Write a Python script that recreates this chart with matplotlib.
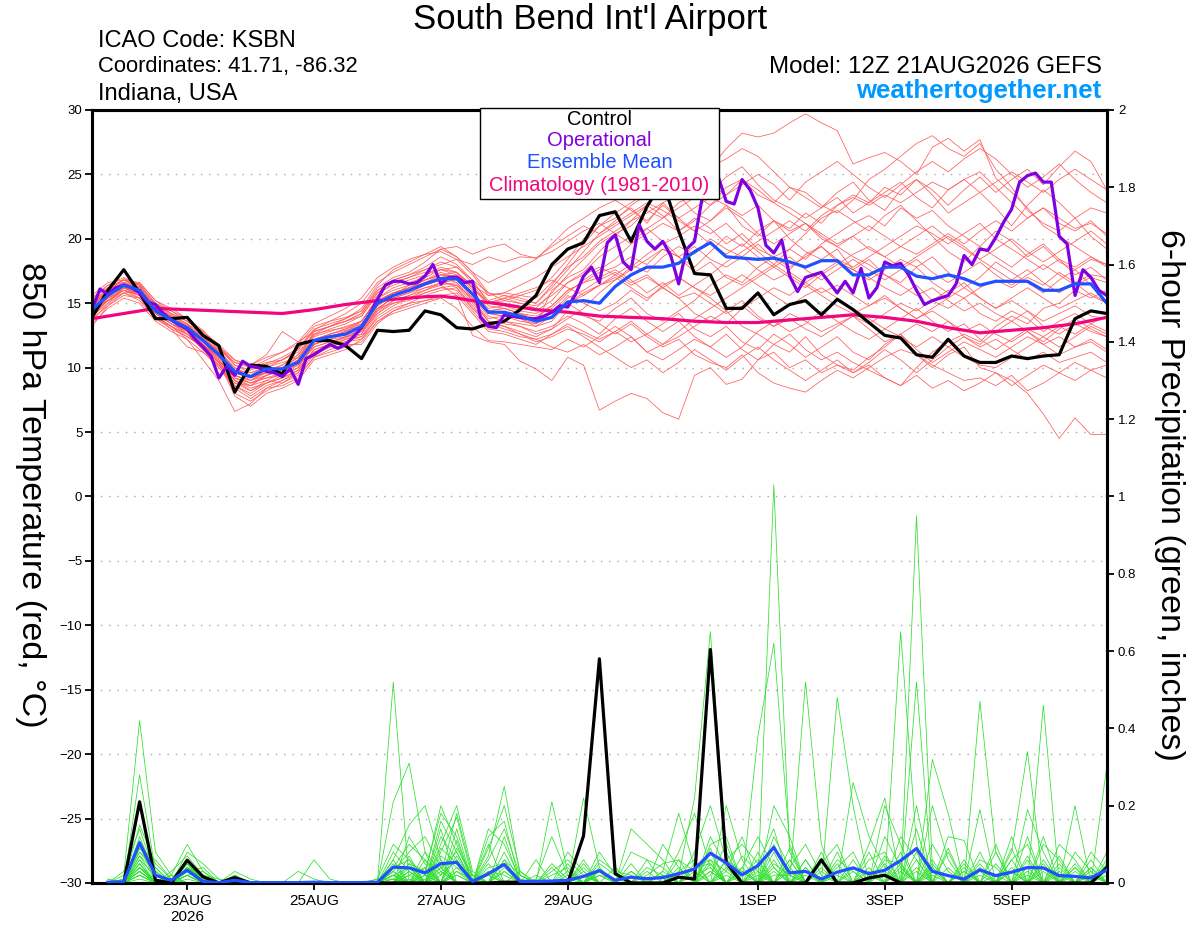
import matplotlib
matplotlib.use("Agg")
import matplotlib.pyplot as plt
import matplotlib.dates as mdates
from matplotlib.patches import Rectangle
from datetime import datetime, timedelta

plt.rcParams['font.family'] = ['Liberation Sans', 'DejaVu Sans']

# -----------------------------------------------------------------------------
# Donnees (pas de 6 h a partir de 12Z 21AUG2026)
# -----------------------------------------------------------------------------
run_start = datetime(2026, 8, 21, 12)
n_steps = 65

tick_dates = [datetime(2026, 8, 23), datetime(2026, 8, 25), datetime(2026, 8, 27),
              datetime(2026, 8, 29), datetime(2026, 9, 1), datetime(2026, 9, 3),
              datetime(2026, 9, 5)]
tick_labels = ["23AUG\n2026", "25AUG", "27AUG", "29AUG", "1SEP", "3SEP", "5SEP"]

# Temperature 850 hPa, membres de l'ensemble (rouge)
t01 = [15.0, 16.2, 16.8, 16.2, 14.8, 13.9, 13.2, 12.4, 11.2, 10.0, 9.2, 9.6, 10.2, 11.0, 12.5, 13.0, 13.4,
       14.0, 15.6, 16.6, 17.0, 17.6, 18.2, 17.8, 16.8, 15.8, 15.2, 15.6, 16.0, 17.0, 18.4, 20.0, 21.0,
       22.0, 22.8, 23.6, 24.2, 25.0, 25.6, 25.5, 27.0, 28.2, 27.9, 28.2, 29.0, 29.7, 29.0, 28.4, 25.8,
       26.3, 26.7, 26.0, 25.0, 27.1, 27.8, 26.8, 27.7, 24.7, 23.6, 22.4, 21.0, 20.2, 19.4, 18.6, 17.8]
t02 = [14.0, 15.2, 16.0, 15.4, 14.0, 13.2, 12.6, 11.4, 10.0, 8.6, 8.0, 8.8, 9.2, 9.8, 11.2, 11.6, 12.2,
       12.8, 14.2, 15.2, 15.6, 16.2, 16.4, 16.6, 15.2, 13.8, 14.0, 13.6, 13.4, 16.0, 17.0, 17.6, 19.0,
       20.2, 21.4, 22.6, 23.8, 24.6, 26.4, 25.6, 26.2, 27.0, 26.4, 25.2, 24.0, 23.6, 22.6, 22.0, 23.0,
       24.6, 25.4, 26.4, 27.4, 28.0, 27.0, 26.4, 27.4, 25.4, 24.0, 22.2, 21.2, 20.6, 21.6, 20.2, 19.2]
t03 = [14.8, 15.8, 16.5, 16.3, 14.6, 14.0, 13.4, 12.0, 10.6, 9.0, 8.6, 9.4, 9.8, 10.2, 11.6, 12.0, 12.3,
       13.0, 14.6, 15.0, 15.4, 16.0, 16.4, 15.6, 12.5, 12.0, 11.8, 10.5, 9.9, 9.0, 10.8, 10.2, 6.7,
       7.4, 8.0, 7.6, 6.5, 6.0, 9.4, 10.0, 8.7, 9.1, 10.6, 11.8, 11.2, 12.4, 11.0, 10.2, 9.6,
       10.2, 9.2, 8.6, 10.0, 11.2, 12.0, 12.6, 12.0, 13.2, 14.0, 13.4, 14.6, 15.0, 16.0, 15.4, 16.0]
t04 = [13.2, 14.8, 15.8, 15.9, 14.9, 14.2, 13.6, 12.8, 11.8, 10.6, 10.0, 10.4, 10.6, 11.2, 12.6, 12.9, 13.1,
       13.6, 15.2, 15.8, 16.2, 16.6, 17.2, 17.4, 16.2, 14.8, 14.6, 14.2, 13.8, 14.2, 15.6, 15.0, 14.4,
       15.0, 16.0, 15.2, 16.4, 17.0, 16.2, 15.4, 14.4, 15.2, 14.0, 13.2, 14.2, 13.6, 12.8, 13.4, 14.0,
       13.0, 12.0, 12.6, 11.0, 10.0, 11.0, 11.6, 10.0, 9.6, 9.0, 8.0, 6.4, 4.5, 6.1, 4.8, 4.8]
t05 = [14.2, 15.4, 16.6, 16.4, 15.0, 14.4, 13.8, 12.9, 11.5, 10.2, 9.8, 10.3, 10.8, 11.5, 13.0, 13.4, 13.8,
       14.4, 16.0, 16.8, 17.2, 17.8, 18.6, 18.0, 16.8, 15.0, 15.4, 15.0, 14.6, 15.8, 17.2, 18.4, 19.6,
       20.4, 21.0, 22.2, 21.6, 22.8, 23.4, 22.6, 24.0, 24.6, 23.4, 22.8, 24.0, 23.2, 22.4, 23.6, 24.4,
       23.0, 22.2, 23.8, 24.6, 23.4, 22.0, 22.8, 23.6, 22.4, 21.0, 22.6, 23.8, 22.8, 21.6, 22.4, 22.0]
t06 = [15.2, 16.0, 16.2, 15.6, 14.2, 13.4, 12.8, 11.8, 10.8, 9.4, 9.0, 9.6, 9.4, 10.0, 11.8, 12.2, 12.4,
       12.8, 14.6, 15.4, 15.8, 16.4, 16.8, 17.0, 15.8, 14.2, 14.0, 13.8, 13.2, 13.6, 15.0, 15.8, 16.4,
       17.2, 18.0, 17.4, 18.6, 19.4, 18.8, 20.0, 19.2, 18.6, 19.6, 18.4, 17.6, 18.8, 19.4, 18.2, 17.6,
       18.4, 17.2, 16.6, 17.8, 18.6, 17.4, 16.2, 17.0, 18.2, 17.4, 16.6, 15.8, 16.8, 17.6, 16.4, 15.6]
t07 = [14.6, 15.8, 16.6, 16.0, 14.0, 13.0, 11.6, 11.2, 10.2, 8.8, 8.2, 9.0, 8.8, 9.4, 10.8, 11.2, 11.6,
       12.0, 13.6, 14.4, 15.0, 15.6, 16.0, 16.2, 14.8, 13.4, 13.2, 12.6, 12.0, 12.4, 13.0, 12.6, 12.0,
       12.8, 13.6, 12.6, 13.4, 14.2, 13.0, 12.4, 13.2, 12.0, 11.4, 12.6, 11.8, 10.8, 11.6, 12.4, 11.2,
       10.6, 11.8, 12.6, 11.4, 10.4, 11.2, 12.0, 11.4, 10.8, 11.6, 12.4, 11.8, 11.0, 11.6, 12.0, 11.2]
t08 = [13.6, 15.0, 16.2, 16.6, 15.2, 14.6, 13.8, 12.6, 11.4, 10.4, 10.2, 11.0, 12.8, 12.0, 12.8, 13.2, 13.6,
       14.2, 16.0, 16.6, 17.0, 17.4, 17.6, 17.8, 16.6, 15.2, 15.6, 15.4, 15.0, 16.4, 18.0, 19.6, 21.0,
       21.6, 22.4, 21.2, 22.8, 23.4, 22.0, 21.4, 22.6, 21.0, 20.2, 21.4, 20.0, 19.0, 18.4, 19.2, 17.6,
       17.0, 16.2, 15.6, 16.4, 15.2, 14.6, 15.4, 14.2, 13.6, 14.4, 13.8, 12.8, 13.6, 14.2, 13.4, 12.8]
t09 = [15.4, 16.4, 16.6, 15.8, 14.4, 13.8, 13.2, 12.2, 11.0, 9.8, 9.6, 10.0, 10.4, 10.8, 12.4, 12.8, 13.2,
       13.6, 15.4, 16.0, 16.4, 16.8, 17.2, 17.0, 15.6, 14.4, 14.2, 14.0, 13.8, 14.8, 16.0, 16.6, 17.4,
       17.8, 18.6, 18.0, 19.2, 18.6, 17.8, 19.0, 20.2, 19.4, 20.6, 21.4, 20.8, 22.0, 21.2, 22.6, 23.4,
       22.8, 24.0, 23.4, 24.6, 23.8, 22.6, 23.8, 24.8, 23.6, 24.6, 25.4, 24.2, 25.6, 26.8, 26.0, 23.8]
t10 = [14.4, 15.2, 15.8, 15.2, 13.8, 13.0, 12.4, 11.6, 10.4, 7.8, 7.0, 8.0, 8.4, 9.0, 10.6, 11.0, 11.4,
       12.2, 14.0, 14.8, 15.4, 15.8, 16.2, 16.4, 15.0, 13.6, 13.4, 13.2, 12.8, 13.2, 14.0, 13.4, 12.6,
       13.8, 14.6, 13.6, 12.8, 13.6, 12.4, 11.6, 12.6, 11.4, 10.6, 11.2, 10.0, 10.6, 9.6, 10.2, 9.8,
       10.8, 11.6, 12.6, 13.4, 12.8, 13.6, 12.4, 11.6, 12.2, 11.4, 10.6, 11.2, 10.4, 10.8, 11.2, 10.4]
t11 = [14.9, 15.9, 16.9, 16.5, 14.9, 14.1, 13.4, 12.4, 11.1, 9.6, 9.2, 9.6, 9.8, 10.6, 12.2, 12.6, 12.9,
       13.2, 15.2, 15.8, 16.0, 16.6, 17.0, 17.2, 16.0, 14.4, 14.6, 14.2, 14.0, 14.6, 15.8, 16.8, 17.6,
       18.4, 19.6, 20.4, 21.2, 20.6, 21.6, 20.8, 19.6, 20.4, 19.2, 18.6, 17.8, 18.6, 19.4, 18.4, 17.8,
       18.6, 19.4, 20.2, 21.0, 20.4, 19.6, 20.4, 21.2, 20.0, 19.2, 18.4, 17.6, 18.4, 17.2, 17.8, 16.8]
t12 = [13.8, 15.4, 16.2, 15.8, 14.6, 13.8, 13.0, 12.0, 10.8, 9.2, 8.8, 9.2, 9.6, 10.2, 11.6, 12.0, 12.4,
       12.6, 14.4, 15.2, 15.6, 16.0, 16.6, 16.4, 15.4, 14.0, 13.6, 13.2, 12.6, 13.0, 14.4, 14.0, 13.6,
       14.6, 15.4, 14.2, 13.6, 14.4, 15.2, 16.4, 17.2, 16.6, 17.8, 18.6, 19.2, 18.4, 19.6, 20.4, 21.2,
       21.8, 21.0, 22.4, 21.6, 22.2, 21.0, 20.2, 19.4, 20.6, 19.8, 18.6, 19.4, 18.2, 17.6, 18.4, 18.0]
t13 = [15.6, 16.6, 16.8, 16.2, 14.6, 13.6, 12.6, 11.6, 10.2, 8.8, 8.6, 9.4, 9.8, 10.6, 12.8, 13.2, 13.6,
       14.0, 15.8, 16.8, 17.2, 17.6, 18.0, 18.4, 17.2, 15.6, 15.8, 15.6, 15.4, 16.6, 17.8, 18.6, 19.8,
       20.6, 21.4, 22.0, 22.8, 21.6, 22.4, 23.2, 22.6, 21.8, 22.6, 21.4, 20.6, 21.2, 20.0, 19.4, 18.6,
       18.0, 17.2, 16.4, 15.6, 16.2, 15.2, 14.4, 15.0, 14.2, 13.6, 14.4, 13.2, 12.6, 13.4, 12.8, 12.4]
t14 = [14.0, 15.6, 16.4, 16.0, 14.2, 13.4, 12.8, 11.8, 10.6, 8.0, 7.4, 8.2, 8.8, 9.6, 11.4, 11.8, 12.2,
       12.4, 14.2, 15.0, 15.2, 15.8, 16.2, 16.0, 14.6, 13.4, 13.6, 13.4, 13.2, 14.0, 15.4, 16.0, 16.8,
       17.4, 16.6, 17.2, 16.2, 15.4, 14.2, 13.6, 14.4, 13.2, 12.6, 11.8, 12.6, 11.4, 10.6, 11.2, 10.4,
       9.8, 9.2, 8.6, 9.4, 8.4, 9.0, 8.2, 8.8, 9.6, 8.6, 9.4, 10.2, 9.6, 9.0, 9.8, 9.2]
t15 = [14.6, 16.0, 16.8, 16.6, 15.2, 14.4, 13.6, 12.6, 11.6, 10.6, 10.2, 10.8, 11.2, 11.8, 13.2, 13.6, 13.9,
       14.4, 16.2, 17.0, 17.4, 18.2, 19.2, 18.6, 17.4, 15.8, 15.6, 15.2, 15.0, 16.2, 17.6, 19.0, 20.4,
       21.4, 22.6, 23.4, 24.6, 25.2, 24.4, 23.6, 24.8, 25.6, 24.2, 23.0, 22.4, 21.6, 22.4, 23.2, 22.0,
       22.8, 23.6, 24.4, 23.2, 22.4, 23.8, 24.6, 25.2, 24.0, 22.8, 21.6, 22.4, 21.2, 20.6, 21.4, 20.2]
t16 = [13.4, 14.6, 15.4, 15.0, 13.6, 12.8, 12.2, 11.2, 10.0, 8.4, 7.6, 8.4, 8.6, 9.2, 10.8, 11.4, 11.8,
       11.8, 13.4, 14.4, 14.8, 15.2, 15.6, 15.8, 14.4, 13.0, 12.8, 12.4, 12.2, 12.6, 13.4, 12.8, 12.2,
       12.8, 12.0, 12.6, 11.8, 12.4, 13.2, 14.0, 13.4, 14.6, 15.4, 16.2, 15.6, 16.6, 17.4, 18.2, 17.6,
       16.8, 17.6, 18.4, 17.8, 16.6, 15.8, 16.6, 15.4, 14.6, 15.2, 14.4, 13.6, 14.2, 14.8, 14.0, 13.8]
t17 = [15.0, 15.8, 16.4, 16.0, 14.4, 13.6, 13.0, 12.2, 11.4, 9.8, 9.0, 9.4, 10.0, 10.8, 12.2, 12.6, 13.0,
       13.4, 15.0, 15.6, 16.2, 16.8, 17.2, 17.0, 15.8, 14.6, 14.8, 14.6, 14.4, 15.2, 16.6, 17.4, 18.6,
       19.4, 20.2, 20.8, 21.6, 22.4, 23.2, 24.2, 23.4, 24.6, 23.8, 22.8, 22.0, 21.2, 20.4, 19.6, 20.2,
       19.2, 18.6, 19.4, 18.8, 19.6, 20.4, 19.6, 20.6, 21.4, 20.6, 21.6, 22.4, 21.6, 20.8, 21.2, 20.4]
t18 = [14.4, 15.6, 16.2, 15.6, 14.2, 13.6, 13.2, 12.4, 11.2, 9.4, 8.8, 9.2, 9.4, 10.0, 11.8, 12.4, 12.8,
       13.6, 15.4, 16.2, 16.6, 17.0, 17.6, 17.4, 16.4, 15.0, 15.2, 15.0, 14.8, 15.6, 16.6, 17.2, 17.8,
       17.2, 16.4, 17.0, 16.2, 15.4, 15.8, 15.0, 14.2, 14.8, 13.8, 13.2, 13.8, 13.0, 12.4, 13.2, 14.0,
       13.4, 14.2, 15.0, 14.4, 15.2, 16.0, 15.4, 16.2, 16.8, 16.2, 17.0, 16.4, 17.4, 16.6, 17.2, 17.0]
t19 = [14.2, 15.2, 16.0, 15.8, 14.6, 13.8, 13.0, 11.8, 10.4, 9.0, 8.4, 8.8, 9.2, 9.8, 11.4, 11.8, 12.0,
       12.6, 14.6, 15.4, 15.8, 16.2, 16.6, 16.8, 15.4, 14.2, 14.0, 13.8, 13.4, 14.0, 15.0, 15.6, 16.4,
       16.8, 17.6, 18.4, 19.2, 18.6, 19.4, 18.4, 17.8, 18.6, 17.6, 16.8, 17.4, 16.6, 15.8, 16.4, 15.6,
       14.8, 15.4, 14.6, 13.8, 14.4, 13.6, 12.8, 13.4, 12.6, 12.0, 12.8, 11.8, 12.4, 11.6, 12.2, 11.4]
t20 = [15.2, 16.4, 17.0, 16.4, 14.8, 14.0, 13.4, 12.6, 11.6, 10.2, 9.6, 10.0, 10.6, 11.4, 12.8, 13.2, 13.6,
       14.2, 15.8, 16.4, 16.8, 17.2, 17.8, 17.4, 16.2, 15.0, 14.8, 14.4, 14.2, 14.8, 16.0, 16.6, 17.0,
       17.6, 16.8, 15.8, 16.6, 15.6, 16.4, 17.2, 18.2, 19.0, 19.8, 20.6, 21.4, 20.6, 21.8, 22.6, 23.2,
       22.6, 23.4, 22.8, 23.6, 24.4, 23.8, 24.6, 23.6, 24.4, 25.2, 24.4, 23.6, 24.6, 25.4, 24.6, 23.8]
t21 = [14.6, 15.6, 16.2, 15.9, 14.7, 13.9, 13.3, 12.3, 11.3, 10.0, 9.4, 10.2, 10.6, 11.4, 12.9, 13.6, 14.2,
       15.0, 16.6, 17.4, 18.0, 18.6, 19.2, 19.4, 18.8, 19.3, 19.6, 18.8, 18.5, 19.0, 19.8, 20.6, 21.2,
       20.4, 19.6, 20.8, 19.8, 18.6, 17.4, 18.2, 17.0, 16.4, 17.2, 18.0, 19.2, 20.4, 21.6, 22.2, 21.4,
       20.6, 21.8, 22.6, 21.4, 20.2, 19.0, 18.2, 19.4, 18.6, 17.8, 18.8, 19.6, 18.4, 17.8, 18.6, 18.0]
t22 = [14.0, 15.0, 15.8, 15.4, 13.8, 13.2, 12.6, 11.4, 10.2, 8.6, 7.8, 8.6, 9.0, 9.6, 11.0, 11.6, 12.0,
       12.4, 13.8, 14.6, 15.0, 15.2, 15.4, 14.6, 13.2, 12.1, 12.0, 11.8, 11.6, 11.4, 12.2, 11.6, 12.4,
       13.2, 12.4, 11.2, 10.6, 11.4, 12.2, 11.6, 10.8, 11.6, 12.8, 13.6, 12.8, 13.4, 14.4, 13.6, 12.8,
       12.2, 13.0, 13.8, 14.6, 13.6, 12.8, 13.4, 12.2, 11.4, 12.2, 13.0, 12.4, 11.6, 12.4, 13.2, 12.6]
t23 = [14.2, 15.4, 16.0, 15.6, 14.0, 13.2, 12.2, 10.6, 9.0, 6.6, 7.2, 8.4, 9.0, 9.8, 11.2, 11.8, 12.4,
       13.0, 14.4, 15.6, 16.4, 17.2, 17.6, 17.2, 16.4, 15.6, 15.8, 16.4, 17.0, 17.8, 18.6, 19.4, 20.2,
       21.0, 21.8, 22.6, 21.8, 20.6, 21.4, 22.6, 23.4, 24.2, 25.0, 24.2, 23.0, 24.4, 25.2, 26.0, 25.0,
       24.0, 23.2, 24.2, 25.2, 26.0, 25.2, 26.2, 27.0, 26.2, 25.0, 24.0, 24.8, 25.8, 24.6, 23.6, 22.8]
t24 = [15.0, 16.0, 16.6, 16.0, 14.6, 13.8, 12.8, 11.8, 10.6, 9.2, 8.6, 9.0, 9.6, 10.2, 11.8, 12.2, 12.6,
       13.2, 14.8, 15.6, 16.0, 16.4, 17.0, 16.6, 15.2, 13.6, 13.2, 12.8, 12.4, 13.0, 13.8, 14.6, 15.8,
       16.8, 17.8, 18.8, 19.6, 20.2, 21.0, 20.4, 21.2, 20.0, 19.0, 18.0, 17.2, 16.4, 15.6, 14.8, 14.2,
       14.8, 15.6, 14.6, 13.8, 14.6, 15.4, 16.2, 15.4, 14.6, 15.4, 16.2, 15.4, 14.6, 15.2, 15.8, 15.0]
t25 = [13.8, 14.8, 15.6, 15.4, 14.0, 13.2, 12.4, 11.6, 10.4, 9.0, 8.2, 8.8, 9.4, 10.0, 11.2, 11.6, 12.0,
       12.2, 13.6, 14.2, 14.6, 15.0, 15.4, 15.6, 14.2, 12.8, 12.6, 12.2, 11.8, 12.6, 13.2, 12.4, 11.6,
       10.8, 10.0, 10.6, 9.6, 10.4, 11.4, 10.6, 9.8, 10.8, 11.6, 10.6, 9.8, 9.0, 9.8, 10.6, 9.6,
       10.4, 11.4, 10.6, 9.6, 10.6, 11.6, 12.4, 11.8, 12.8, 13.6, 12.8, 12.0, 13.0, 13.8, 13.0, 12.4]
t26 = [14.8, 16.0, 16.6, 16.2, 14.6, 13.8, 13.0, 12.0, 10.8, 9.4, 9.0, 9.8, 10.2, 11.0, 12.6, 13.2, 13.8,
       14.6, 16.4, 17.6, 18.2, 18.8, 19.4, 18.6, 17.4, 16.6, 17.2, 17.8, 18.4, 19.6, 20.8, 21.6, 22.4,
       23.0, 22.2, 21.4, 22.6, 21.6, 20.6, 21.4, 22.4, 21.6, 20.4, 19.6, 20.4, 21.2, 20.2, 19.4, 20.2,
       21.0, 20.2, 19.4, 20.2, 21.0, 20.0, 19.2, 18.4, 19.2, 20.0, 19.0, 18.2, 19.0, 19.8, 20.6, 19.6]
t27 = [14.4, 15.8, 16.4, 16.0, 14.2, 13.4, 12.6, 11.6, 10.4, 9.6, 9.2, 9.8, 10.0, 10.6, 12.0, 12.4, 12.8,
       13.4, 15.0, 15.8, 16.2, 16.6, 17.0, 17.2, 16.2, 15.0, 15.4, 15.8, 16.2, 16.8, 16.2, 15.6, 16.4,
       17.0, 16.2, 15.4, 16.2, 17.0, 16.2, 15.6, 16.4, 17.2, 16.4, 15.6, 14.8, 15.6, 16.2, 15.4, 14.6,
       13.8, 13.0, 12.4, 11.6, 12.4, 11.6, 10.8, 10.2, 10.0, 10.8, 11.6, 12.4, 13.2, 12.6, 13.4, 14.0]
t28 = [15.4, 16.2, 16.8, 16.4, 15.0, 14.2, 13.6, 12.8, 11.6, 10.4, 10.0, 10.6, 11.2, 12.0, 13.4, 14.0, 14.6,
       15.4, 17.0, 17.8, 18.4, 18.8, 19.0, 18.4, 18.0, 18.6, 18.2, 18.6, 18.5, 19.4, 20.2, 21.0, 20.4,
       21.2, 22.0, 22.8, 22.2, 21.4, 20.6, 19.6, 18.8, 19.6, 18.6, 17.8, 18.6, 17.6, 16.8, 17.6, 18.4,
       17.6, 16.8, 17.6, 18.4, 17.4, 16.6, 17.4, 18.2, 17.2, 16.4, 17.2, 18.0, 17.2, 16.4, 17.0, 16.6]
t29 = [14.2, 15.2, 16.2, 15.8, 14.4, 13.6, 13.0, 11.8, 10.6, 9.2, 8.8, 9.4, 9.8, 10.4, 11.8, 12.4, 12.8,
       13.0, 14.8, 15.6, 16.0, 16.4, 16.8, 16.2, 14.6, 13.4, 13.0, 12.6, 12.2, 11.6, 11.2, 11.8, 11.0,
       11.6, 12.4, 11.2, 11.8, 12.8, 13.8, 14.6, 15.4, 16.2, 17.0, 17.8, 17.0, 16.2, 17.2, 18.0, 18.8,
       19.4, 18.6, 17.8, 18.6, 19.4, 20.2, 19.4, 18.4, 17.6, 16.8, 17.6, 16.6, 15.8, 16.6, 15.6, 15.0]
t30 = [14.6, 15.4, 16.0, 15.6, 14.4, 13.6, 13.2, 12.2, 11.0, 9.6, 9.2, 9.6, 10.0, 10.8, 12.0, 12.6, 13.0,
       13.6, 15.2, 15.8, 16.2, 16.8, 17.4, 17.0, 15.8, 14.4, 14.6, 14.2, 13.6, 14.2, 15.0, 14.2, 13.4,
       12.6, 13.4, 12.4, 11.6, 12.2, 11.0, 10.4, 10.0, 11.0, 9.6, 8.8, 8.4, 8.1, 9.0, 9.8, 9.2,
       10.0, 10.8, 11.4, 11.0, 10.2, 9.6, 9.0, 9.2, 8.6, 9.4, 8.2, 8.8, 9.6, 10.4, 9.8, 10.2]
temp_members = [t01, t02, t03, t04, t05, t06, t07, t08, t09, t10,
                t11, t12, t13, t14, t15, t16, t17, t18, t19, t20,
                t21, t22, t23, t24, t25, t26, t27, t28, t29, t30]

# Controle, moyenne d'ensemble, climatologie (pas de 6 h)
temp_control = [13.9, 16.0, 17.6, 15.8, 13.8, 13.8, 13.9, 12.5, 11.7, 8.1, 10.2, 10.1, 9.5, 11.8, 12.1, 12.1, 11.7,
                10.7, 12.9, 12.8, 12.9, 14.4, 14.1, 13.1, 13.0, 13.4, 13.6, 14.5, 15.6, 18.0, 19.2, 19.7, 21.8,
                22.1, 19.8, 22.5, 24.5, 20.6, 17.3, 17.2, 14.6, 14.6, 15.8, 14.1, 14.9, 15.2, 14.1, 15.3, 14.5,
                13.5, 12.5, 12.3, 11.0, 10.8, 12.2, 10.9, 10.4, 10.4, 10.9, 10.7, 10.9, 11.0, 13.8, 14.4, 14.2]
temp_mean = [14.5, 15.6, 16.4, 16.0, 14.4, 13.7, 13.1, 12.1, 11.0, 9.7, 9.3, 9.9, 9.9, 10.4, 12.1, 12.4, 12.6,
             13.2, 15.0, 15.6, 16.0, 16.5, 16.9, 16.9, 15.7, 14.3, 14.3, 14.0, 13.6, 13.9, 15.1, 15.2, 15.0,
             16.3, 17.2, 17.8, 17.8, 18.1, 19.0, 19.7, 18.6, 18.5, 18.4, 18.5, 18.2, 17.8, 18.3, 18.3, 17.2,
             17.2, 17.8, 17.8, 17.1, 16.9, 17.2, 16.9, 16.4, 16.7, 16.7, 16.7, 16.0, 16.0, 16.5, 16.5, 15.0]
temp_clim = [13.8, 14.0, 14.2, 14.4, 14.6, 14.55, 14.5, 14.45, 14.4, 14.35, 14.3, 14.25, 14.2, 14.35, 14.5, 14.7, 14.9,
             15.05, 15.2, 15.3, 15.4, 15.5, 15.55, 15.4, 15.2, 15.05, 14.9, 14.7, 14.5, 14.4, 14.3, 14.15, 14.0,
             13.95, 13.9, 13.85, 13.8, 13.7, 13.6, 13.55, 13.5, 13.5, 13.5, 13.6, 13.7, 13.8, 13.9, 14.0, 14.1,
             14.0, 13.9, 13.75, 13.6, 13.35, 13.1, 12.9, 12.7, 12.8, 12.9, 13.0, 13.1, 13.25, 13.4, 13.65, 13.9]

# Operationnel (pas de 3 h)
temp_oper = [14.5, 16.1, 15.7, 16.2, 16.4, 16.2, 15.8, 15.1, 14.9, 14.2, 13.7, 13.3, 13.0, 12.2, 11.6, 10.9,
             9.2, 10.1, 9.4, 10.5, 10.1, 10.0, 9.7, 9.6, 9.3, 9.9, 8.7, 10.7, 11.0, 11.4, 11.8, 11.5,
             11.8, 12.4, 13.1, 14.1, 15.3, 16.4, 16.7, 16.7, 16.5, 16.6, 17.1, 18.0, 16.5, 17.0, 17.0, 16.6,
             16.7, 13.9, 13.2, 13.1, 14.1, 14.0, 13.9, 13.8, 13.8, 14.0, 14.3, 14.8, 14.7, 15.7, 17.1, 17.8,
             16.6, 19.7, 20.3, 18.2, 17.6, 21.1, 19.8, 19.2, 19.8, 18.7, 16.5, 19.2, 19.8, 23.3, 25.5, 24.8,
             22.9, 22.7, 24.6, 23.8, 22.4, 19.5, 18.9, 19.9, 17.1, 15.9, 17.0, 17.2, 17.4, 16.6, 15.8, 16.7,
             15.8, 17.7, 15.4, 16.2, 18.2, 17.9, 18.1, 17.2, 16.0, 14.9, 15.2, 15.4, 15.6, 16.5, 18.7, 18.0,
             19.2, 19.1, 20.1, 21.3, 22.3, 24.4, 24.9, 25.1, 24.4, 24.4, 20.2, 19.6, 15.6, 17.6, 17.0, 16.0,
             15.6]

# Precipitation sur 6 h (centiemes de pouce), pas 1 a 64, membres (vert)
p01 = [0, 2, 42, 8, 2, 10, 3, 0,  0, 0, 0, 0, 0, 0, 0, 0,  0, 0, 52, 0, 4, 0, 0, 0,  2, 0, 0, 0, 0, 0, 22, 4,
       0, 0, 0, 0, 2, 22, 65, 8,  0, 0, 0, 0, 0, 0, 0, 0,  0, 0, 3, 0, 0, 0, 0, 0,  0, 8, 34, 0, 0, 0, 0, 30]
p02 = [0, 0, 28, 3, 0, 8, 5, 1,  0, 0, 0, 0, 0, 0, 0, 0,  0, 0, 21, 31, 8, 0, 3, 0,  0, 0, 0, 0, 0, 0, 0, 0,
       0, 14, 10, 6, 0, 0, 0, 0,  0, 0, 103, 8, 0, 0, 0, 0,  0, 0, 0, 0, 32, 18, 0, 0,  0, 0, 0, 46, 0, 0, 0, 0]
p03 = [1, 0, 15, 5, 1, 6, 1, 0,  3, 1, 0, 0, 0, 0, 0, 0,  0, 0, 6, 15, 20, 6, 0, 0,  7, 25, 2, 0, 0, 0, 0, 2,
       0, 0, 0, 0, 0, 8, 20, 6,  0, 0, 0, 0, 52, 10, 0, 0,  0, 0, 0, 0, 0, 8, 0, 0,  0, 0, 2, 0, 4, 0, 0, 0]
p04 = [0, 0, 12, 2, 0, 4, 0, 0,  2, 0, 0, 0, 0, 0, 0, 0,  0, 1, 10, 6, 2, 20, 10, 0,  0, 0, 0, 1, 12, 2, 0, 0,
       0, 0, 0, 0, 0, 0, 0, 0,  0, 38, 62, 10, 0, 0, 0, 0,  0, 0, 0, 95, 4, 0, 0, 0,  0, 0, 0, 0, 0, 20, 0, 0]
p05 = [0, 1, 10, 0, 3, 7, 2, 1,  0, 0, 0, 0, 0, 0, 0, 0,  0, 0, 4, 10, 6, 2, 18, 2,  0, 6, 0, 0, 0, 0, 4, 0,
       0, 0, 4, 2, 0, 0, 0, 20,  6, 0, 0, 4, 10, 2, 0, 0,  0, 0, 0, 52, 0, 0, 0, 0,  0, 0, 19, 8, 0, 0, 0, 0]
p06 = [0, 0, 8, 4, 0, 3, 4, 0,  0, 0, 0, 0, 3, 1, 0, 0,  0, 0, 3, 8, 12, 4, 0, 0,  14, 10, 1, 0, 0, 0, 0, 6,
       3, 2, 0, 0, 0, 0, 10, 12,  0, 0, 20, 12, 0, 0, 48, 20,  0, 0, 0, 0, 0, 12, 11, 0,  0, 0, 0, 0, 0, 0, 3, 0]
p07 = [1, 0, 6, 0, 0, 2, 0, 0,  1, 0, 0, 0, 0, 0, 0, 0,  0, 0, 2, 4, 0, 16, 8, 0,  0, 0, 0, 0, 3, 6, 2, 0,
       0, 0, 0, 0, 0, 0, 0, 0,  4, 12, 4, 0, 0, 0, 0, 26,  12, 4, 0, 0, 0, 0, 4, 0,  0, 0, 0, 0, 10, 6, 0, 0]
p08 = [0, 0, 5, 0, 1, 0, 0, 0,  0, 0, 0, 0, 0, 0, 0, 0,  0, 0, 8, 3, 0, 10, 20, 3,  0, 0, 0, 0, 0, 0, 6, 0,
       0, 0, 0, 3, 18, 4, 5, 0,  0, 0, 0, 0, 6, 0, 0, 0,  0, 20, 10, 0, 0, 0, 0, 47,  8, 0, 0, 0, 0, 0, 2, 0]
p09 = [0, 3, 14, 2, 0, 5, 1, 0,  0, 0, 0, 0, 0, 0, 0, 0,  0, 1, 1, 0, 3, 18, 12, 0,  12, 16, 0, 0, 0, 0, 0, 8,
       2, 0, 0, 0, 0, 0, 0, 6,  10, 5, 14, 0, 0, 5, 10, 0,  0, 0, 65, 10, 0, 0, 0, 3,  0, 0, 0, 0, 0, 4, 0, 8]
p10 = [0, 0, 4, 0, 0, 0, 0, 0,  0, 0, 0, 0, 0, 0, 0, 0,  0, 0, 0, 2, 0, 8, 17, 1,  0, 0, 0, 0, 21, 3, 0, 0,
       0, 0, 0, 0, 0, 2, 4, 0,  0, 0, 0, 3, 0, 0, 4, 8,  0, 0, 0, 20, 0, 0, 0, 0,  0, 6, 10, 0, 0, 0, 0, 0]
p11 = [0, 0, 3, 0, 0, 4, 0, 0,  2, 0, 0, 0, 0, 0, 0, 0,  0, 0, 2, 0, 2, 0, 14, 0,  9, 20, 3, 0, 0, 0, 0, 3,
       0, 5, 0, 0, 0, 0, 8, 0,  0, 4, 0, 0, 4, 0, 0, 0,  6, 8, 0, 0, 20, 6, 0, 0,  0, 0, 0, 10, 6, 0, 0, 0]
p12 = [0, 1, 9, 6, 1, 0, 0, 0,  0, 0, 0, 0, 0, 6, 1, 0,  0, 0, 0, 5, 0, 3, 0, 0,  6, 14, 2, 0, 0, 0, 0, 4,
       0, 0, 6, 4, 0, 0, 0, 3,  12, 0, 8, 0, 0, 8, 0, 0,  0, 6, 5, 0, 0, 0, 0, 19,  0, 12, 0, 0, 0, 0, 4, 0]
p13 = [0, 0, 2, 0, 0, 3, 0, 0,  0, 0, 0, 0, 0, 0, 0, 0,  0, 0, 1, 0, 1, 0, 4, 2,  0, 0, 0, 0, 0, 8, 3, 0,
       0, 0, 0, 10, 4, 0, 0, 0,  2, 6, 0, 0, 0, 0, 6, 3,  0, 0, 0, 4, 0, 0, 0, 6,  4, 0, 0, 0, 0, 8, 3, 0]
p14 = [0, 0, 7, 3, 0, 6, 2, 0,  0, 0, 0, 0, 0, 0, 0, 0,  0, 0, 0, 1, 0, 14, 0, 0,  4, 5, 0, 0, 0, 0, 0, 2,
       1, 0, 0, 0, 8, 18, 4, 0,  0, 0, 2, 2, 0, 0, 0, 0,  10, 22, 0, 0, 6, 0, 0, 0,  0, 0, 6, 0, 0, 0, 0, 6]
p15 = [0, 0, 1, 0, 2, 0, 0, 0,  1, 0, 0, 0, 0, 0, 0, 0,  0, 0, 3, 0, 0, 2, 6, 0,  0, 0, 0, 0, 2, 4, 0, 0,
       0, 3, 0, 0, 0, 0, 12, 4,  0, 0, 0, 0, 3, 0, 0, 0,  4, 0, 0, 0, 2, 0, 0, 0,  0, 4, 0, 12, 0, 0, 0, 0]
p16 = [0, 0, 3, 0, 0, 2, 0, 0,  0, 0, 0, 0, 0, 0, 0, 0,  0, 0, 0, 2, 4, 0, 2, 0,  0, 3, 0, 6, 0, 0, 0, 5,
       2, 0, 0, 0, 0, 4, 6, 0,  0, 0, 6, 0, 0, 3, 0, 0,  0, 0, 4, 0, 0, 4, 0, 2,  0, 0, 0, 3, 0, 0, 2, 0]
p17 = [0, 0, 5, 0, 0, 4, 1, 0,  0, 0, 0, 0, 0, 0, 0, 0,  0, 0, 2, 0, 0, 6, 0, 0,  0, 0, 0, 0, 0, 0, 2, 0,
       0, 8, 6, 0, 0, 0, 3, 0,  0, 2, 0, 6, 0, 0, 2, 0,  0, 0, 0, 8, 0, 0, 0, 0,  10, 0, 0, 0, 2, 0, 0, 4]
p18 = [0, 0, 11, 2, 0, 1, 0, 0,  0, 0, 0, 0, 0, 0, 0, 0,  0, 0, 0, 3, 0, 0, 3, 1,  0, 0, 0, 0, 5, 1, 0, 3,
       0, 0, 0, 0, 0, 0, 2, 10,  0, 0, 3, 0, 0, 0, 0, 4,  2, 0, 0, 0, 0, 0, 3, 0,  0, 0, 4, 0, 0, 0, 0, 2]
p19 = [0, 0, 2, 0, 0, 3, 0, 0,  0, 0, 0, 0, 0, 0, 0, 0,  0, 0, 1, 0, 2, 0, 0, 0,  3, 2, 0, 0, 0, 3, 0, 0,
       0, 0, 2, 5, 6, 0, 0, 0,  3, 0, 10, 0, 0, 0, 5, 0,  0, 3, 0, 0, 3, 0, 0, 0,  2, 0, 0, 0, 5, 0, 0, 0]
p20 = [0, 0, 4, 1, 0, 2, 0, 0,  0, 0, 0, 0, 0, 0, 0, 0,  0, 0, 0, 0, 0, 4, 8, 0,  0, 0, 0, 2, 0, 0, 5, 0,
       0, 0, 0, 0, 3, 6, 0, 2,  0, 3, 0, 0, 2, 0, 0, 0,  0, 0, 12, 6, 0, 0, 0, 0,  0, 3, 0, 0, 0, 2, 0, 0]
p21 = [0, 0, 6, 2, 0, 5, 0, 0,  0, 0, 0, 0, 0, 0, 0, 0,  0, 0, 4, 6, 0, 9, 5, 0,  0, 8, 0, 0, 0, 0, 0, 0,
       0, 0, 0, 0, 4, 0, 6, 3,  0, 0, 5, 2, 0, 0, 0, 6,  0, 0, 0, 3, 0, 0, 5, 0,  0, 0, 7, 0, 0, 3, 0, 0]
p22 = [0, 0, 3, 0, 0, 2, 3, 0,  0, 0, 0, 0, 0, 0, 0, 0,  0, 0, 0, 12, 5, 0, 2, 0,  5, 0, 0, 0, 0, 2, 0, 0,
       0, 0, 0, 0, 0, 3, 0, 0,  0, 8, 0, 0, 4, 0, 0, 0,  0, 12, 4, 0, 0, 0, 0, 8,  0, 0, 0, 5, 0, 0, 0, 3]
p23 = [0, 1, 8, 3, 0, 0, 0, 0,  0, 0, 0, 0, 0, 0, 0, 0,  0, 0, 6, 0, 8, 3, 0, 0,  0, 6, 2, 0, 0, 0, 0, 3,
       0, 0, 0, 2, 0, 0, 0, 6,  3, 0, 0, 0, 0, 0, 8, 0,  0, 0, 0, 0, 10, 3, 0, 0,  0, 6, 0, 0, 3, 0, 0, 0]
p24 = [0, 0, 4, 0, 0, 6, 0, 0,  0, 0, 0, 0, 0, 0, 0, 0,  0, 0, 0, 4, 0, 12, 6, 0,  3, 0, 0, 0, 0, 0, 0, 0,
       4, 0, 0, 0, 0, 0, 9, 0,  0, 0, 12, 4, 0, 0, 0, 0,  8, 0, 0, 14, 0, 0, 0, 0,  5, 0, 0, 4, 0, 0, 6, 0]
p25 = [0, 0, 5, 0, 2, 0, 0, 0,  0, 0, 0, 0, 0, 0, 0, 0,  0, 0, 3, 0, 0, 0, 9, 2,  0, 4, 0, 0, 0, 0, 3, 0,
       0, 0, 3, 0, 0, 0, 0, 0,  7, 3, 0, 0, 0, 6, 0, 0,  0, 0, 8, 0, 0, 0, 6, 0,  0, 0, 12, 0, 0, 5, 0, 0]
p26 = [0, 0, 2, 0, 0, 3, 0, 0,  0, 0, 0, 0, 0, 0, 0, 0,  0, 0, 0, 3, 0, 5, 0, 0,  10, 0, 0, 0, 4, 0, 0, 0,
       0, 0, 0, 0, 6, 3, 0, 0,  0, 0, 0, 9, 0, 0, 0, 3,  0, 5, 0, 0, 0, 9, 0, 0,  0, 3, 0, 0, 0, 0, 8, 3]
p27 = [0, 0, 9, 4, 0, 4, 2, 0,  0, 0, 0, 0, 0, 0, 0, 0,  0, 0, 2, 0, 6, 0, 11, 0,  0, 0, 3, 0, 0, 0, 0, 0,
       0, 3, 0, 0, 0, 0, 5, 0,  0, 0, 4, 0, 0, 0, 3, 0,  0, 0, 0, 6, 0, 0, 0, 4,  0, 0, 0, 0, 7, 0, 0, 0]
p28 = [0, 0, 3, 0, 0, 2, 0, 0,  0, 0, 0, 0, 0, 0, 0, 0,  0, 0, 0, 7, 0, 4, 0, 0,  0, 12, 0, 0, 0, 0, 0, 2,
       0, 0, 0, 0, 0, 5, 0, 4,  0, 0, 0, 0, 6, 0, 0, 0,  3, 0, 0, 0, 5, 0, 0, 0,  8, 0, 0, 6, 0, 0, 0, 5]
p29 = [0, 0, 7, 1, 0, 3, 0, 0,  0, 0, 0, 0, 0, 0, 0, 0,  0, 0, 5, 0, 0, 7, 4, 0,  2, 0, 0, 0, 0, 5, 0, 0,
       0, 0, 0, 3, 0, 0, 0, 0,  4, 0, 0, 6, 0, 0, 0, 0,  0, 0, 5, 0, 0, 0, 3, 0,  0, 9, 0, 0, 0, 4, 0, 0]
p30 = [0, 0, 4, 0, 0, 5, 0, 0,  0, 0, 0, 0, 0, 0, 0, 0,  0, 0, 0, 5, 3, 0, 7, 0,  0, 3, 0, 0, 0, 0, 2, 0,
       0, 0, 0, 0, 0, 0, 3, 0,  0, 5, 0, 0, 0, 4, 0, 0,  0, 7, 0, 0, 4, 0, 0, 5,  0, 0, 3, 0, 0, 0, 4, 0]
precip_members = [p01, p02, p03, p04, p05, p06, p07, p08, p09, p10,
                  p11, p12, p13, p14, p15, p16, p17, p18, p19, p20,
                  p21, p22, p23, p24, p25, p26, p27, p28, p29, p30]

# Controle et moyenne d'ensemble (pouces), pas 1 a 64
precip_control = [0, 0, 0.21, 0.007, 0, 0.059, 0.016, 0, 0.014, 0, 0, 0, 0, 0, 0, 0,
                  0, 0, 0, 0, 0, 0, 0, 0, 0, 0.002, 0.002, 0, 0, 0, 0.122, 0.58,
                  0.024, 0, 0, 0, 0.015, 0.01, 0.604, 0.053, 0, 0, 0, 0, 0, 0.06, 0, 0,
                  0.013, 0.02, 0, 0, 0, 0, 0, 0, 0, 0, 0, 0, 0, 0, 0, 0.04]
precip_mean = [0.002, 0.003, 0.104, 0.02, 0.007, 0.033, 0.004, 0.001, 0.007, 0.001, 0.001, 0.001, 0.001, 0.002, 0.001, 0.001,
               0.001, 0.002, 0.041, 0.039, 0.026, 0.05, 0.053, 0.004, 0.024, 0.048, 0.004, 0.004, 0.005, 0.007, 0.017, 0.032,
               0.007, 0.015, 0.011, 0.014, 0.024, 0.036, 0.077, 0.052, 0.021, 0.045, 0.092, 0.026, 0.03, 0.01, 0.028, 0.039,
               0.024, 0.033, 0.058, 0.089, 0.03, 0.019, 0.01, 0.034, 0.019, 0.028, 0.04, 0.039, 0.019, 0.017, 0.013, 0.034]

legend_entries = ["Control", "Operational", "Ensemble Mean", "Climatology (1981-2010)"]

# -----------------------------------------------------------------------------
# Couleurs
# -----------------------------------------------------------------------------
c_member_t = '#ff5c5c'
c_member_p = '#2ee02e'
c_control = 'black'
c_oper = '#8000e0'
c_mean = '#2050ff'
c_clim = '#f0077f'
legend_colors = [c_control, c_oper, c_mean, c_clim]

# %% Axe du temps
times = [run_start + timedelta(hours=6 * i) for i in range(n_steps)]
times_op = [run_start + timedelta(hours=3 * j) for j in range(len(temp_oper))]
times_p = times[1:]

# %% Figure
fig = plt.figure(figsize=(12, 9.27), dpi=100)
ax = fig.add_axes([0.0767, 0.0475, 0.8456, 0.8339])
axp = ax.twinx()

for m in temp_members:
    ax.plot(times, m, color=c_member_t, lw=0.55, zorder=1)
ax.plot(times, temp_clim, color=c_clim, lw=2.3, zorder=3)
ax.plot(times, temp_control, color=c_control, lw=2.3, zorder=4)
ax.plot(times_op, temp_oper, color=c_oper, lw=2.3, zorder=5)
ax.plot(times, temp_mean, color=c_mean, lw=2.3, zorder=6)

for m in precip_members:
    axp.plot(times_p, [v / 100 for v in m], color=c_member_p, lw=0.55, zorder=1)
axp.plot(times_p, precip_control, color=c_control, lw=2.3, zorder=3)
axp.plot(times_p, precip_mean, color=c_mean, lw=2.3, zorder=4)

# Axes
ax.set_xlim(times[0], times[-1])
ax.set_ylim(-30, 30)
axp.set_ylim(0, 2)
ax.set_yticks(range(-30, 31, 5))
axp.set_yticks([0, 0.2, 0.4, 0.6, 0.8, 1.0, 1.2, 1.4, 1.6, 1.8, 2.0])
axp.set_yticklabels(["0", "0.2", "0.4", "0.6", "0.8", "1", "1.2", "1.4", "1.6", "1.8", "2"])
ax.set_xticks([mdates.date2num(d) for d in tick_dates])
ax.set_xticklabels(tick_labels)

ax.grid(axis='y', color='#a8a8a8', lw=1.0, linestyle=(0, (1, 5)))
ax.set_axisbelow(True)

for a in (ax, axp):
    for s in a.spines.values():
        s.set_linewidth(2.2)
ax.tick_params(axis='y', labelsize=9.5, length=5, width=1.3, pad=2)
axp.tick_params(axis='y', labelsize=9.5, length=5, width=1.3, pad=3)
ax.tick_params(axis='x', labelsize=11, length=5, width=1.3, pad=3)

# Titres et textes
fig.text(0.492, 0.979, "South Bend Int'l Airport", ha='center', va='center', fontsize=25)
fig.text(0.082, 0.956, "ICAO Code: KSBN", ha='left', va='center', fontsize=17)
fig.text(0.082, 0.928, "Coordinates: 41.71, -86.32", ha='left', va='center', fontsize=15.8)
fig.text(0.082, 0.899, "Indiana, USA", ha='left', va='center', fontsize=17)
fig.text(0.918, 0.928, "Model: 12Z 21AUG2026 GEFS", ha='right', va='center', fontsize=17.4)
fig.text(0.918, 0.902, "weathertogether.net", ha='right', va='center', fontsize=18.5,
         fontweight='bold', color='#0099ff')
fig.text(0.025, 0.466, "850 hPa Temperature (red, \u00b0C)", ha='center', va='center',
         rotation=270, fontsize=24.5)
fig.text(0.975, 0.466, "6-hour Precipitation (green, inches)", ha='center', va='center',
         rotation=270, fontsize=24.5)

# Legende (boite blanche par-dessus les courbes)
axp.add_patch(Rectangle((0.400, 0.7853), 0.1992, 0.0982, transform=fig.transFigure,
                        facecolor='white', edgecolor='black', lw=1.0, zorder=20, clip_on=False))
legend_y = [0.8706, 0.8479, 0.8242, 0.8004]
for txt, col, yy in zip(legend_entries, legend_colors, legend_y):
    axp.text(0.4996, yy, txt, transform=fig.transFigure, ha='center', va='center',
             fontsize=14.5, color=col, zorder=21)

fig.savefig("out.png", dpi=100)
